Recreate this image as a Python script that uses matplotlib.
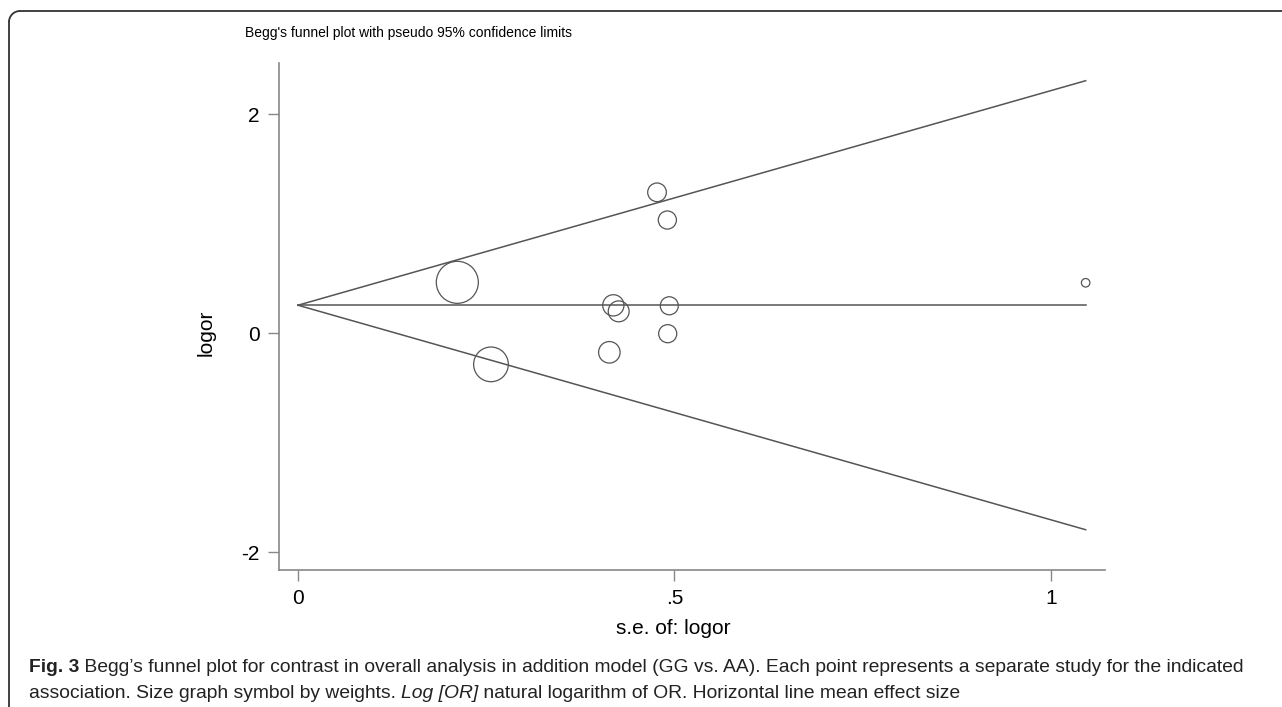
import matplotlib
matplotlib.use("Agg")
import matplotlib.pyplot as plt
import numpy as np
from matplotlib.lines import Line2D
from matplotlib.patches import Arc

# ---- data ----
se_logor = [0.2116, 0.2563, 0.4188, 0.4259, 0.4135, 0.4931, 0.4910, 0.4768, 0.4905, 1.046]
logor = [0.463, -0.286, 0.253, 0.198, -0.176, 0.249, -0.006, 1.285, 1.032, 0.459]
mean_effect = 0.254
x_ticks = [0, 0.5, 1]
x_ticklabels = ["0", ".5", "1"]
y_ticks = [-2, 0, 2]
y_ticklabels = ["-2", "0", "2"]
title = "Begg's funnel plot with pseudo 95% confidence limits"
xlabel = "s.e. of: logor"
ylabel = "logor"
caption_bold = "Fig. 3"
caption_line1 = " Begg\u2019s funnel plot for contrast in overall analysis in addition model (GG vs. AA). Each point represents a separate study for the indicated"
caption_line2_a = "association. Size graph symbol by weights. "
caption_line2_b = "Log [OR]"
caption_line2_c = " natural logarithm of OR. Horizontal line mean effect size"

W, H = 1282, 707
fig = plt.figure(figsize=(W / 100, H / 100), dpi=100)
fig.patch.set_facecolor("white")

ax = fig.add_axes([279 / W, 1 - 570 / H, (1105 - 279) / W, (570 - 63) / H])
ax.set_xlim(-0.0252, 1.0717)
ax.set_ylim(-2.164, 2.466)

se = np.array(se_logor)
lo = np.array(logor)
weights = 1.0 / se ** 2

se_max = se.max()
line_col = "#555555"
ax.plot([0, se_max], [mean_effect, mean_effect + 1.96 * se_max], color=line_col, lw=1.1)
ax.plot([0, se_max], [mean_effect, mean_effect - 1.96 * se_max], color=line_col, lw=1.1)
ax.plot([0, se_max], [mean_effect, mean_effect], color=line_col, lw=1.1)

ax.scatter(se, lo, s=weights * 41, facecolors="none", edgecolors="#555555", linewidths=0.9, zorder=3)

for sp in ["top", "right"]:
    ax.spines[sp].set_visible(False)
for sp in ["left", "bottom"]:
    ax.spines[sp].set_color("#888888")
    ax.spines[sp].set_linewidth(1.2)

ax.set_xticks(x_ticks)
ax.set_xticklabels(x_ticklabels)
ax.set_yticks(y_ticks)
ax.set_yticklabels(y_ticklabels)
ax.tick_params(axis="both", length=8, width=1.0, color="#888888", labelsize=15, pad=6)
for t in ax.get_xticklabels() + ax.get_yticklabels():
    t.set_family("Liberation Sans")

ax.set_xlabel(xlabel, fontsize=15, family="Liberation Sans")
ax.set_ylabel(ylabel, fontsize=15, family="Liberation Sans")
ax.xaxis.set_label_coords((673 - 279) / (1105 - 279), -(628 - 570) / (570 - 63), transform=ax.transAxes)
ax.xaxis.label.set_va("center")
ax.yaxis.set_label_coords(-(279 - 206) / (1105 - 279), (570 - 333) / (570 - 63), transform=ax.transAxes)
ax.yaxis.label.set_va("center")

fig.text(245 / W, 1 - 33 / H, title, fontsize=10, family="Liberation Sans", va="center", ha="left")

# border (top and left, rounded corner)
fig.add_artist(Line2D([9 / W, 9 / W], [0, 1 - 22 / H], transform=fig.transFigure, color="#333333", lw=1.3))
fig.add_artist(Line2D([20 / W, 1], [1 - 11 / H, 1 - 11 / H], transform=fig.transFigure, color="#333333", lw=1.3))
fig.add_artist(Arc((20, H - 22), 22, 22, theta1=90, theta2=180, transform=None, color="#333333", lw=1.3))

# caption, fitted to the reference line width
cap_fam = "Liberation Sans"
cap_col = "#222222"
x0 = 29
target_w = 1250 - 29
fig.canvas.draw()
r = fig.canvas.get_renderer()


def write_line(parts, y, fs):
    x = x0
    arts = []
    for txt, kw in parts:
        t = fig.text(x / W, 1 - y / H, txt, fontsize=fs, family=cap_fam, va="center", ha="left",
                     color=cap_col, **kw)
        bb = t.get_window_extent(r)
        x = bb.x1
        arts.append(t)
    return arts, x - x0


fs = 12
line1 = [(caption_bold, {"weight": "bold"}), (caption_line1, {})]
arts, w = write_line(line1, 668, fs)
for a in arts:
    a.remove()
fs = fs * target_w / w
write_line(line1, 668, fs)
write_line([(caption_line2_a, {}), (caption_line2_b, {"style": "italic"}), (caption_line2_c, {})], 694, fs)

fig.savefig("out.png", dpi=100)
